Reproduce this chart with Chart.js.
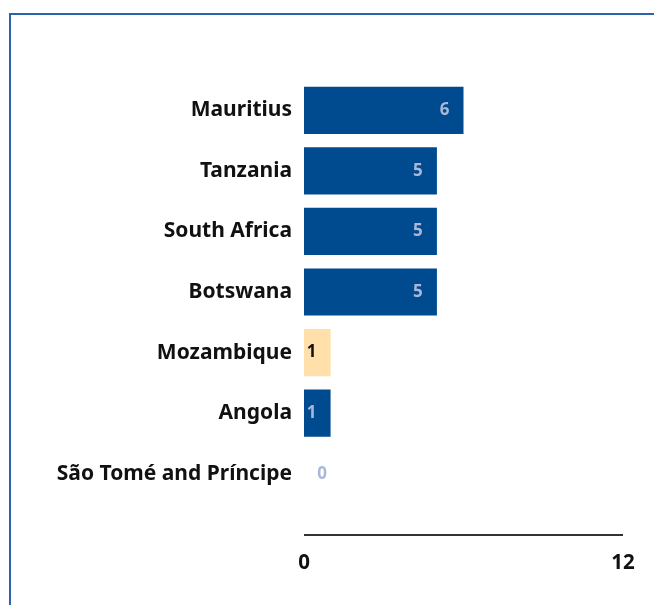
<!DOCTYPE html>
<html>
<head>
<meta charset="utf-8">
<script src="https://cdn.jsdelivr.net/npm/chart.js@4"></script>
<style>
    html, body { margin: 0; padding: 0; background: #fff; overflow: hidden; }
    #frame {
        position: absolute; left: 9px; top: 13px; width: 700px; height: 650px;
        border-left: 2px solid #2E62AC; border-top: 2px solid #2E62AC;
    }
    #chart { position: absolute; left: 0; top: 0; }
</style>
</head>
<body>
<div id="frame"></div>
<canvas id="chart" width="654" height="605"></canvas>
<script>
var countries = ["Mauritius", "Tanzania", "South Africa", "Botswana", "Mozambique", "Angola", "São Tomé and Príncipe"];
var counts = [6, 5, 5, 5, 1, 1, 0];
var barColors = ["#004A8F", "#004A8F", "#004A8F", "#004A8F", "#FFDFAA", "#004A8F", "#004A8F"];
var labelColors = ["#A9B8D8", "#A9B8D8", "#A9B8D8", "#A9B8D8", "#111111", "#A9B8D8", "#A9B8D8"];
var axisTicks = [0, 12];

var FONT = "'Noto Sans', 'Open Sans', sans-serif";

// value labels drawn near the bar end, outside when the bar is empty
var valueLabels = {
    id: "valueLabels",
    afterDatasetsDraw: function(chart){
        var ctx = chart.ctx;
        var meta = chart.getDatasetMeta(0);
        ctx.save();
        ctx.font = "bold 17px " + FONT;
        ctx.textAlign = "center";
        ctx.textBaseline = "middle";
        meta.data.forEach(function(bar, i){
            var x = counts[i] > 0 ? bar.x - 19 : bar.x + 18;
            ctx.fillStyle = labelColors[i];
            ctx.fillText(String(counts[i]), x, bar.y);
        });
        ctx.restore();
    }
};

// bottom axis line sits below the bars with a gap
var axisLine = {
    id: "axisLine",
    afterDraw: function(chart){
        var ctx = chart.ctx;
        var xs = chart.scales.x;
        var y = chart.chartArea.bottom + 31;
        ctx.save();
        ctx.strokeStyle = "#333333";
        ctx.lineWidth = 2;
        ctx.beginPath();
        ctx.moveTo(xs.getPixelForValue(axisTicks[0]), y);
        ctx.lineTo(xs.getPixelForValue(axisTicks[axisTicks.length - 1]), y);
        ctx.stroke();
        ctx.restore();
    }
};

new Chart(document.getElementById("chart"), {
    type: "bar",
    data: {
        labels: countries,
        datasets: [{
            data: counts,
            backgroundColor: barColors,
            categoryPercentage: 0.78,
            barPercentage: 1
        }]
    },
    options: {
        indexAxis: "y",
        responsive: false,
        animation: false,
        layout: { padding: { top: 80, right: 31, left: 0, bottom: 0 } },
        plugins: { legend: { display: false }, tooltip: { enabled: false } },
        scales: {
            x: {
                min: axisTicks[0],
                max: axisTicks[axisTicks.length - 1],
                afterBuildTicks: function(scale){
                    scale.ticks = axisTicks.map(function(v){ return { value: v }; });
                },
                grid: { display: false, drawTicks: false },
                border: { display: false },
                ticks: { color: "#111", padding: 47, font: { family: FONT, size: 20.5, weight: "bold" } },
                afterFit: function(scale){
                    scale.height = 101;
                    scale.paddingLeft = 0;
                    scale.paddingRight = 0;
                }
            },
            y: {
                grid: { display: false, drawTicks: false },
                border: { display: false },
                ticks: { color: "#111", padding: 12, font: { family: FONT, size: 21, weight: "bold" } },
                afterFit: function(scale){ scale.width = 304; }
            }
        }
    },
    plugins: [valueLabels, axisLine]
});
</script>
</body>
</html>
